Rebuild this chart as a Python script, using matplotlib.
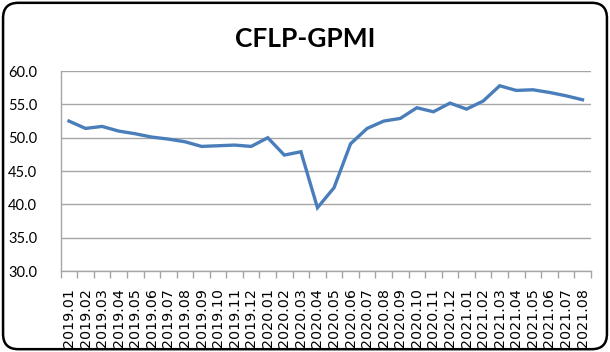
import matplotlib.pyplot as plt
from matplotlib.patches import FancyBboxPatch
from matplotlib.ticker import FixedLocator

months = [
    "2019.01", "2019.02", "2019.03", "2019.04", "2019.05", "2019.06",
    "2019.07", "2019.08", "2019.09", "2019.10", "2019.11", "2019.12",
    "2020.01", "2020.02", "2020.03", "2020.04", "2020.05", "2020.06",
    "2020.07", "2020.08", "2020.09", "2020.10", "2020.11", "2020.12",
    "2021.01", "2021.02", "2021.03", "2021.04", "2021.05", "2021.06",
    "2021.07", "2021.08",
]
gpmi = [
    52.5, 51.4, 51.7, 51.0, 50.6, 50.1,
    49.8, 49.4, 48.7, 48.8, 48.9, 48.7,
    50.0, 47.4, 47.9, 39.5, 42.5, 49.1,
    51.4, 52.5, 52.9, 54.5, 53.9, 55.2,
    54.3, 55.5, 57.8, 57.1, 57.2, 56.8,
    56.3, 55.7,
]
y_ticks = [30, 35, 40, 45, 50, 55, 60]

fig = plt.figure(figsize=(6.1, 3.52), dpi=100)
ax = fig.add_axes([0.0995, 0.230, 0.869, 0.568])

x = list(range(len(months)))
ax.plot(x, gpmi, color="#4A7EBB", lw=2.4, solid_joinstyle="miter")

ax.set_xlim(-0.5, len(months) - 0.5)
ax.set_ylim(30, 60)
ax.set_yticks(y_ticks)
ax.set_yticklabels([f"{v:.1f}" for v in y_ticks], family="Lato", fontsize=10.5)
ax.tick_params(axis="y", length=0, pad=17)
ax.yaxis.grid(True, color="#A6A6A6", lw=1)
ax.set_axisbelow(True)

ax.set_xticks(x)
ax.set_xticklabels(months, rotation=90, family="DejaVu Sans", fontsize=10.3)
ax.tick_params(axis="x", which="major", length=0, pad=12)
ax.xaxis.set_minor_locator(FixedLocator([i - 0.5 for i in range(len(months) + 1)]))
ax.tick_params(axis="x", which="minor", length=5, color="#A6A6A6", width=1)

for side in ["top", "right"]:
    ax.spines[side].set_visible(False)
for side in ["left", "bottom"]:
    ax.spines[side].set_color("#A6A6A6")
    ax.spines[side].set_linewidth(1)

fig.text(0.5, 0.89, "CFLP-GPMI", ha="center", va="center",
         family="Lato", fontweight="bold", fontsize=19)

border = FancyBboxPatch((0.005, 0.008), 0.99, 0.984, transform=fig.transFigure,
                        boxstyle="round,pad=0,rounding_size=0.025",
                        facecolor="none", edgecolor="black", lw=1.8,
                        mutation_aspect=610 / 352)
fig.patches.append(border)

fig.savefig("out.png", dpi=100)
